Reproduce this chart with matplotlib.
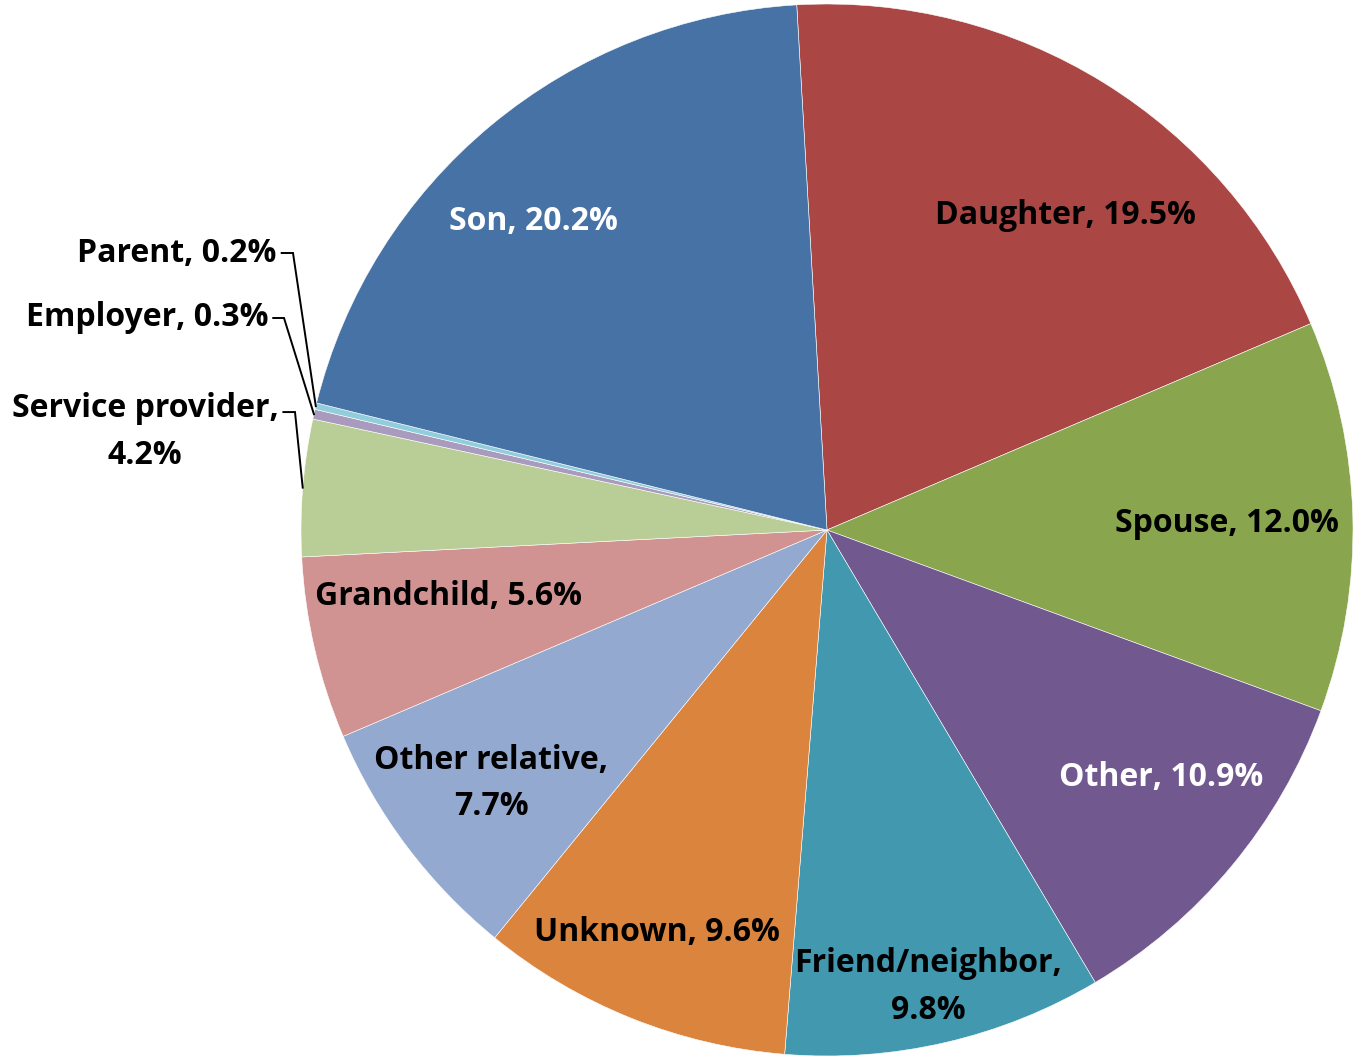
import matplotlib.pyplot as plt
import numpy as np

# Who reported, share of cases (%), clockwise from 12 o'clock
categories = ["Daughter", "Spouse", "Other", "Friend/neighbor", "Unknown",
              "Other relative", "Grandchild", "Service provider", "Employer",
              "Parent", "Son"]
shares = [19.5, 12.0, 10.9, 9.8, 9.6, 7.7, 5.6, 4.2, 0.3, 0.2, 20.2]
labelTexts = ["Daughter, 19.5%", "Spouse, 12.0%", "Other, 10.9%",
              "Friend/neighbor,\n9.8%", "Unknown, 9.6%", "Other relative,\n7.7%",
              "Grandchild, 5.6%", "Service provider,\n4.2%", "Employer, 0.3%",
              "Parent, 0.2%", "Son, 20.2%"]

colors = ["#AA4643", "#89A54E", "#71588F", "#4198AF", "#DB843D", "#93A9CF",
          "#D19392", "#B9CD96", "#A99BBD", "#92CDDC", "#4672A6"]
textColors = ["black", "black", "white", "black", "black", "black", "black",
              "black", "black", "black", "white"]

startAngle = 93.3
fontSize = 23
fontName = "Open Sans"
lineSpacing = 1.55

# Inside labels: (angle shift from wedge middle, radius fraction)
insideLabels = {
    "Daughter": (-5.3, 0.75),
    "Spouse": (-0.5, 0.76),
    "Other": (3.2, 0.79),
    "Friend/neighbor": (-0.5, 0.89),
    "Unknown": (-1.0, 0.83),
    "Other relative": (0.1, 0.80),
    "Grandchild": (-3.0, 0.73),
    "Son": (3.9, 0.81),
}

# Outside labels, figure pixel coords (y from top): (text center x, center y, elbow x)
outsideLabels = {
    "Parent": (177, 253, 293),
    "Employer": (147, 318, 284),
    "Service provider": (145, 432, 295),
}

W, H = 1354, 1057
cx, cy, R = 827, 530, 526


def toData(px, py):
    return (px - cx) / R, (cy - py) / R


fig = plt.figure(figsize=(W / 100, H / 100), dpi=100)
ax = fig.add_axes([0, 0, 1, 1])

wedges, _ = ax.pie(shares, colors=colors, startangle=startAngle,
                   counterclock=False, radius=1.0, center=(0, 0),
                   wedgeprops=dict(edgecolor="white", linewidth=0.4))

# pie() resets the limits, so set them afterwards
ax.set_xlim(-cx / R, (W - cx) / R)
ax.set_ylim(-(H - cy) / R, cy / R)
ax.set_aspect("equal")
ax.axis("off")

outsideTexts = []
for w, name, txt, tc in zip(wedges, categories, labelTexts, textColors):
    mid = (w.theta1 + w.theta2) / 2
    if name in insideLabels:
        shift, frac = insideLabels[name]
        a = np.radians(mid + shift)
        ax.text(frac * np.cos(a), frac * np.sin(a), txt, color=tc,
                fontsize=fontSize, fontweight="bold", family=fontName,
                ha="center", va="center", linespacing=lineSpacing)
    else:
        px, py, elbowX = outsideLabels[name]
        tx, ty = toData(px, py)
        t = ax.text(tx, ty, txt, color=tc, fontsize=fontSize,
                    fontweight="bold", family=fontName, ha="center",
                    va="center", linespacing=lineSpacing)
        outsideTexts.append((t, mid, elbowX, txt.count("\n") + 1))

# Leader lines: from the right end of the first text line to the wedge edge
fig.canvas.draw()
for t, mid, elbowX, nLines in outsideTexts:
    bb = t.get_window_extent()
    lineY = bb.y1 - bb.height / (2 * nLines)  # display pixels, from bottom
    x0, y0 = (bb.x1 + 5 - cx) / R, (lineY - (H - cy)) / R
    ex0 = (elbowX - cx) / R
    a = np.radians(mid)
    ax.plot([x0, ex0, np.cos(a)], [y0, y0, np.sin(a)], color="black", lw=1.4,
            solid_joinstyle="miter")

fig.savefig("out.png", dpi=100)
